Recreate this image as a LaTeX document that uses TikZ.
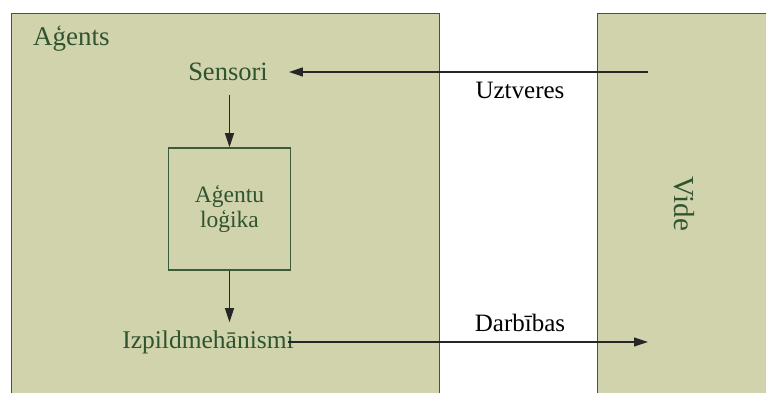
\documentclass[tikz,border=0pt]{standalone}
\usepackage{fontspec}
\setmainfont{Liberation Serif}
\usetikzlibrary{arrows.meta}

\definecolor{olivefill}{RGB}{208,211,172}
\definecolor{darkleaf}{RGB}{58,92,58}
\definecolor{leaftext}{RGB}{48,84,48}

\begin{document}
\begin{tikzpicture}[x=1pt, y=-1pt,
    panel/.style={draw=darkleaf, fill=olivefill, line width=1.3pt, inner sep=0pt},
    part/.style={text=leaftext, font=\fontsize{25.5}{28}\selectfont, inner sep=1pt},
    flowlabel/.style={font=\fontsize{25}{28}\selectfont, inner sep=1pt},
    arr/.style={-{Triangle[length=14pt,width=9pt]}, line width=1.1pt, draw=black!85}]
    \useasboundingbox (0,0) rectangle (766,393);
    \clip (0,0) rectangle (766,393);

    \node[panel, anchor=north west, minimum width=428pt, minimum height=400pt] (agent) at (11,13) {};
    \node[panel, anchor=north west, minimum width=200pt, minimum height=400pt] (env) at (597,13) {};

    \node[part, anchor=base west, font=\fontsize{27}{28}\selectfont] (agentname) at (32,46) {Aģents};
    \node[part, font=\fontsize{26.5}{28}\selectfont] (sensors) at (228,72) {Sensori};
    \node[part, draw=darkleaf, line width=1.5pt, minimum size=122pt, align=center,
          font=\fontsize{23.5}{25}\selectfont] (logic) at (229.5,209) {Aģentu\\loģika};
    \node[part] (actuators) at (208,342) {Izpildmehānismi};
    \node[part, rotate=-90, font=\fontsize{29}{30}\selectfont] (envname) at (684,204) {Vide};

    \node[flowlabel] (percepts) at (520,90) {Uztveres};
    \node[flowlabel] (actions) at (520,323) {Darbības};

    \coordinate (sense) at (648,72);
    \coordinate (act) at (648,342);

    \draw[arr] (sense) -- ([xshift=20pt]sensors.east);
    \draw[arr] ([yshift=-13pt]logic.north |- sensors.south) -- (logic.north);
    \draw[arr] (logic.south) -- ([yshift=7pt]logic.south |- actuators.north);
    \draw[arr] ([xshift=-7pt]actuators.east) -- (act);
\end{tikzpicture}
\end{document}
